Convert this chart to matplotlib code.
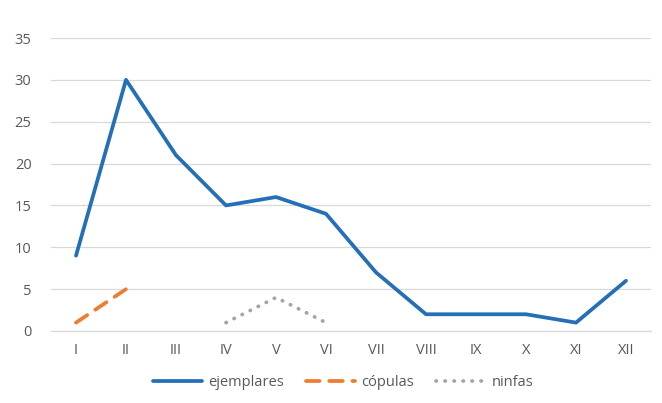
import matplotlib
matplotlib.use('Agg')
import matplotlib.pyplot as plt
import numpy as np

months = ["I", "II", "III", "IV", "V", "VI", "VII", "VIII", "IX", "X", "XI", "XII"]
ejemplares = [9, 30, 21, 15, 16, 14, 7, 2, 2, 2, 1, 6]
copulas = [1, 5]            # I - II
ninfas = [1, 4, 1]          # IV - VI
ninfas_start = 3

plt.rcParams['font.family'] = ['Open Sans', 'DejaVu Sans']
grey_txt = '#595959'

fig = plt.figure(figsize=(6.62, 4.03), dpi=100)
ax = fig.add_axes([51 / 662, 1 - 331 / 403, 600 / 662, 293 / 403])

x = np.arange(len(months))
ax.plot(x, ejemplares, color='#2470B8', lw=2.7, label='ejemplares',
        solid_joinstyle='round', solid_capstyle='round')
ax.plot(x[:len(copulas)], copulas, color='#ED7D31', lw=2.7, label='cópulas',
        linestyle=(0, (3.6, 2.6)), dash_capstyle='round')
ax.plot(x[ninfas_start:ninfas_start + len(ninfas)], ninfas, color='#A5A5A5',
        lw=2.7, label='ninfas', linestyle=(0, (0.1, 2.3)), dash_capstyle='round')

ax.set_xlim(-0.5, len(months) - 0.5)
ax.set_ylim(0, 35)
ax.set_yticks(range(0, 36, 5))
ax.set_xticks(x)
ax.set_xticklabels(months)
ax.grid(axis='y', color='#D9D9D9', lw=0.9)
ax.set_axisbelow(True)
for s in ['left', 'right', 'top']:
    ax.spines[s].set_visible(False)
ax.spines['bottom'].set_color('#D9D9D9')
ax.spines['bottom'].set_linewidth(0.9)
ax.tick_params(length=0, labelsize=10.5, colors=grey_txt, pad=9)
ax.tick_params(axis='y', pad=14)

leg = fig.legend(loc='center', bbox_to_anchor=(343 / 662, 1 - 383 / 403), ncol=3,
                 frameon=False, fontsize=10.5, handlelength=3.4,
                 columnspacing=1.5, handletextpad=0.4)
for t in leg.get_texts():
    t.set_color(grey_txt)

fig.savefig('out.png', dpi=100)
